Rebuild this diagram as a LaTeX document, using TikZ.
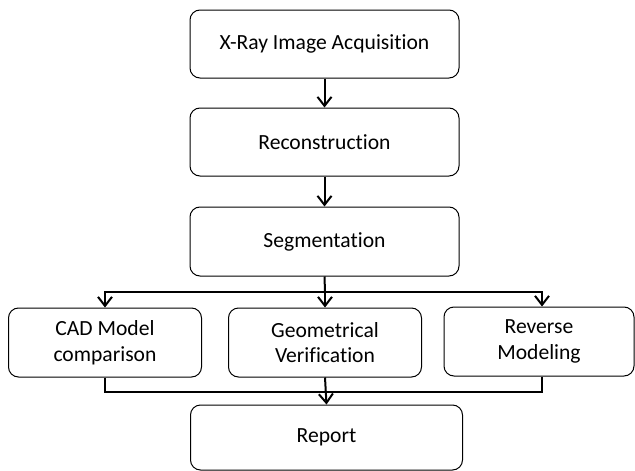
\documentclass[tikz,border=0pt]{standalone}
\usepackage{fontspec}
\setmainfont{Carlito}[Ligatures=NoCommon]
\usetikzlibrary{arrows.meta}
\begin{document}
\begin{tikzpicture}[x=1pt,y=-1pt,
  box/.style={draw,line width=1pt,rounded corners=10pt,align=center,inner sep=0pt,
    font=\fontsize{21.6pt}{25.5pt}\selectfont},
  wide/.style={box,minimum width=269pt,minimum height=68pt},
  small/.style={box,minimum width=193pt,minimum height=69pt},
  conn/.style={line width=2pt},
  arr/.style={conn,-{Straight Barb[length=9pt,width=14pt,line width=2pt]}}]
\useasboundingbox (0,0) rectangle (635,471);
\node[wide] (xray) at (324.5,44) {X-Ray Image Acquisition};
\node[wide] (recon) at (324.5,142) {Reconstruction};
\node[wide,minimum height=69pt] (seg) at (324.5,241.5) {Segmentation};
\node[small] (cad) at (105,342.5) {CAD Model\\comparison};
\node[small] (geo) at (325,342.5) {Geometrical\\Verification};
\node[small,minimum width=190pt] (rev) at (539,341.5) {Reverse\\Modeling};
\node[box,minimum width=272pt,minimum height=65pt] (report) at (326.5,437.5) {Report};
\coordinate (busT) at (325,292);
\coordinate (busB) at (325,392);
\draw[arr] (xray.south) -- (recon.north);
\draw[arr] (recon.south) -- (seg.north);
\draw[conn] (seg.south) -- (busT);
\draw[arr] (busT) -| (cad.north);
\draw[arr] (busT) -- (geo.north);
\draw[arr] (busT) -| ([xshift=3pt]rev.north);
\draw[conn] (cad.south) |- (busB);
\draw[conn] ([xshift=3pt]rev.south) |- (busB);
\draw[arr] (geo.south) -- (report.north);
\end{tikzpicture}
\end{document}
